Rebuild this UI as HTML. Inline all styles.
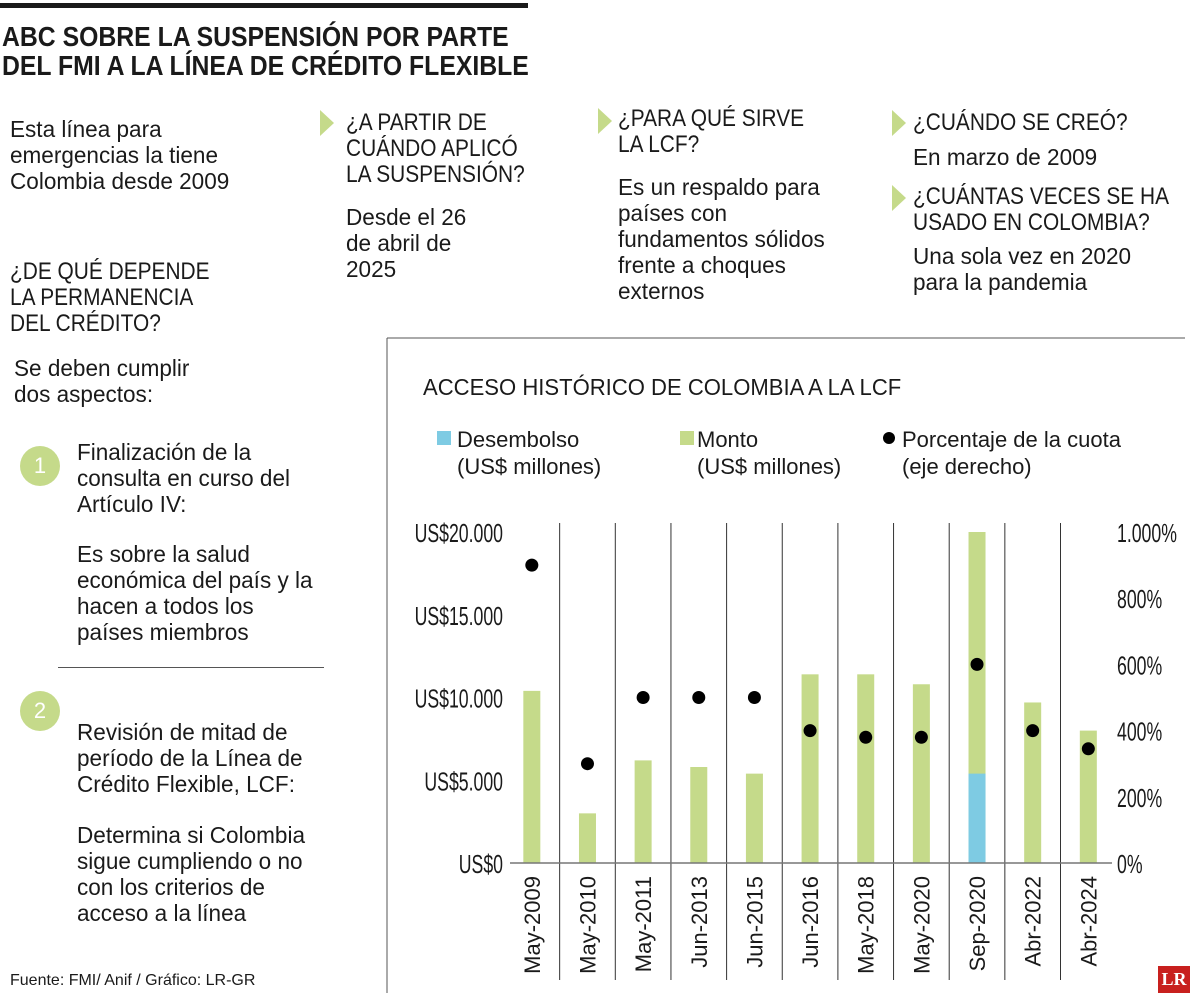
<!DOCTYPE html>
<html><head><meta charset="utf-8"><style>
body{margin:0;width:1200px;height:993px;background:#fff;position:relative;overflow:hidden;font-family:"Liberation Sans",sans-serif;color:#1a1a1a}
.t{position:absolute;font-size:23px;line-height:26px;white-space:nowrap;transform:scaleX(0.98);transform-origin:0 0}
.h{position:absolute;font-size:24px;line-height:26px;white-space:nowrap;transform:scaleX(0.87);transform-origin:0 0}
.tri{position:absolute;width:0;height:0;border-top:13px solid transparent;border-bottom:13px solid transparent;border-left:14px solid #c5da8a}
.circ{position:absolute;width:40px;height:40px;border-radius:50%;background:#c5da8a;color:#fff;font-size:22px;line-height:40px;text-align:center;font-family:"Liberation Sans",sans-serif}
</style></head><body>
<div style="position:absolute;left:0;top:3px;width:528px;height:5px;background:#1a1a1a"></div>
<div style="position:absolute;left:2px;top:22px;font-size:28px;line-height:29px;font-weight:bold;white-space:nowrap;transform:scaleX(0.885);transform-origin:0 0">ABC SOBRE LA SUSPENSIÓN POR PARTE<br>DEL FMI A LA LÍNEA DE CRÉDITO FLEXIBLE</div>

<div class="t" style="left:10px;top:116px">Esta línea para<br>emergencias la tiene<br>Colombia desde 2009</div>

<div class="tri" style="left:320px;top:110px"></div>
<div class="h" style="left:346px;top:110px">¿A PARTIR DE<br>CUÁNDO APLICÓ<br>LA SUSPENSIÓN?</div>
<div class="t" style="left:346px;top:204px">Desde el 26<br>de abril de<br>2025</div>

<div class="tri" style="left:598px;top:108px"></div>
<div class="h" style="left:618px;top:106px">¿PARA QUÉ SIRVE<br>LA LCF?</div>
<div class="t" style="left:618px;top:174px">Es un respaldo para<br>países con<br>fundamentos sólidos<br>frente a choques<br>externos</div>

<div class="tri" style="left:892px;top:110px"></div>
<div class="h" style="left:913px;top:110px">¿CUÁNDO SE CREÓ?</div>
<div class="t" style="left:913px;top:144px">En marzo de 2009</div>
<div class="tri" style="left:892px;top:185px"></div>
<div class="h" style="left:913px;top:184px">¿CUÁNTAS VECES SE HA<br>USADO EN COLOMBIA?</div>
<div class="t" style="left:913px;top:243px">Una sola vez en 2020<br>para la pandemia</div>

<div class="h" style="left:10px;top:259px">¿DE QUÉ DEPENDE<br>LA PERMANENCIA<br>DEL CRÉDITO?</div>
<div class="t" style="left:14px;top:355px">Se deben cumplir<br>dos aspectos:</div>

<div class="circ" style="left:20px;top:446px">1</div>
<div class="t" style="left:77px;top:439px">Finalización de la<br>consulta en curso del<br>Artículo IV:</div>
<div class="t" style="left:77px;top:541px">Es sobre la salud<br>económica del país y la<br>hacen a todos los<br>países miembros</div>
<div style="position:absolute;left:58px;top:667px;width:266px;height:1px;background:#555"></div>
<div class="circ" style="left:20px;top:691px">2</div>
<div class="t" style="left:77px;top:719px">Revisión de mitad de<br>período de la Línea de<br>Crédito Flexible, LCF:</div>
<div class="t" style="left:77px;top:822px">Determina si Colombia<br>sigue cumpliendo o no<br>con los criterios de<br>acceso a la línea</div>

<div style="position:absolute;left:10px;top:972px;font-size:16px;white-space:nowrap">Fuente: FMI/ Anif / Gráfico: LR-GR</div>
<div style="position:absolute;left:1158px;top:966px;width:32px;height:27px;background:#c8201e;color:#fff;font-family:'Liberation Serif',serif;font-weight:bold;font-size:18px;line-height:27px;text-align:center">LR</div>

<svg id="chart" width="1200" height="993" style="position:absolute;left:0;top:0" font-family="Liberation Sans, sans-serif"></svg>
<script>
const categories=["May-2009","May-2010","May-2011","Jun-2013","Jun-2015","Jun-2016","May-2018","May-2020","Sep-2020","Abr-2022","Abr-2024"];
const monto=[10400,3000,6200,5800,5400,11400,11400,10800,20000,9700,8000];
const desembolso=[0,0,0,0,0,0,0,0,5400,0,0];
const cuota=[900,300,500,500,500,400,380,380,600,400,345];
const leftTicks=[0,5000,10000,15000,20000];
const leftTickLabels=["US$0","US$5.000","US$10.000","US$15.000","US$20.000"];
const rightTicks=[0,200,400,600,800,1000];
const rightTickLabels=["0%","200%","400%","600%","800%","1.000%"];

const NS="http://www.w3.org/2000/svg";
const svg=document.getElementById('chart');
const y0=863,yTop=532;
const yL=v=>y0-(v/20000)*(y0-yTop);
const yR=v=>y0-(v/1000)*(y0-yTop);
const x0=504,step=55.65;
const xC=i=>x0+step*(i+0.5);
function mk(tag,attrs,txt){const e=document.createElementNS(NS,tag);for(const k in attrs)e.setAttribute(k,attrs[k]);if(txt!==undefined)e.textContent=txt;svg.appendChild(e);return e;}

let e=mk('line',{x1:387,y1:338,x2:1185,y2:338,stroke:'#555','stroke-width':1});


e=mk('line',{x1:387,y1:338,x2:387,y2:993,stroke:'#555','stroke-width':1});


e=mk('text',{transform:'translate(423,395) scale(0.96,1)','font-size':23,fill:'#1a1a1a'},'ACCESO HISTÓRICO DE COLOMBIA A LA LCF');



// legend
e=mk('rect',{x:437,y:431,width:14,height:14,fill:'#7ecbe3'});


e=mk('text',{x:457,y:447,'font-size':22,fill:'#1a1a1a'},'Desembolso');


e=mk('text',{x:457,y:474,'font-size':22,fill:'#1a1a1a'},'(US$ millones)');


e=mk('rect',{x:680,y:431,width:14,height:14,fill:'#c5da8a'});


e=mk('text',{x:697,y:447,'font-size':22,fill:'#1a1a1a'},'Monto');


e=mk('text',{x:697,y:474,'font-size':22,fill:'#1a1a1a'},'(US$ millones)');


e=mk('circle',{cx:889,cy:438,r:6,fill:'#000'});


e=mk('text',{x:902,y:447,'font-size':22,fill:'#1a1a1a'},'Porcentaje de la cuota');


e=mk('text',{x:902,y:474,'font-size':22,fill:'#1a1a1a'},'(eje derecho)');



// separators
for(let i=1;i<categories.length;i++){
  e=mk('line',{x1:x0+step*i,y1:523,x2:x0+step*i,y2:980,stroke:'#333','stroke-width':1});
  
  
}
// ticks
leftTicks.forEach((v,i)=>{
  e=mk('text',{transform:`translate(503,${yL(v)+10}) scale(0.68,1)`,'font-size':26,'text-anchor':'end',fill:'#1a1a1a'},leftTickLabels[i]);
  
  
});
rightTicks.forEach((v,i)=>{
  e=mk('text',{transform:`translate(1117,${yR(v)+10}) scale(0.68,1)`,'font-size':26,fill:'#1a1a1a'},rightTickLabels[i]);
  
  
});
// bars
categories.forEach((c,i)=>{
  const bw=17,x=xC(i)-bw/2;
  e=mk('rect',{x:x,y:yL(monto[i]),width:bw,height:y0-yL(monto[i]),fill:'#c5da8a'});
  
  
  if(desembolso[i]>0){
    e=mk('rect',{x:x,y:yL(desembolso[i]),width:bw,height:y0-yL(desembolso[i]),fill:'#7ecbe3'});
    
    
  }
  e=mk('text',{transform:`translate(${xC(i)+8},${876}) rotate(-90)`,'font-size':22,'text-anchor':'end',fill:'#1a1a1a'},c);
  
  
});
e=mk('line',{x1:510,y1:y0,x2:1112,y2:y0,stroke:'#777','stroke-width':1.5});


categories.forEach((c,i)=>{
  e=mk('circle',{cx:xC(i),cy:yR(cuota[i]),r:6.5,fill:'#000'});
  
  
});
</script>
</body></html>
